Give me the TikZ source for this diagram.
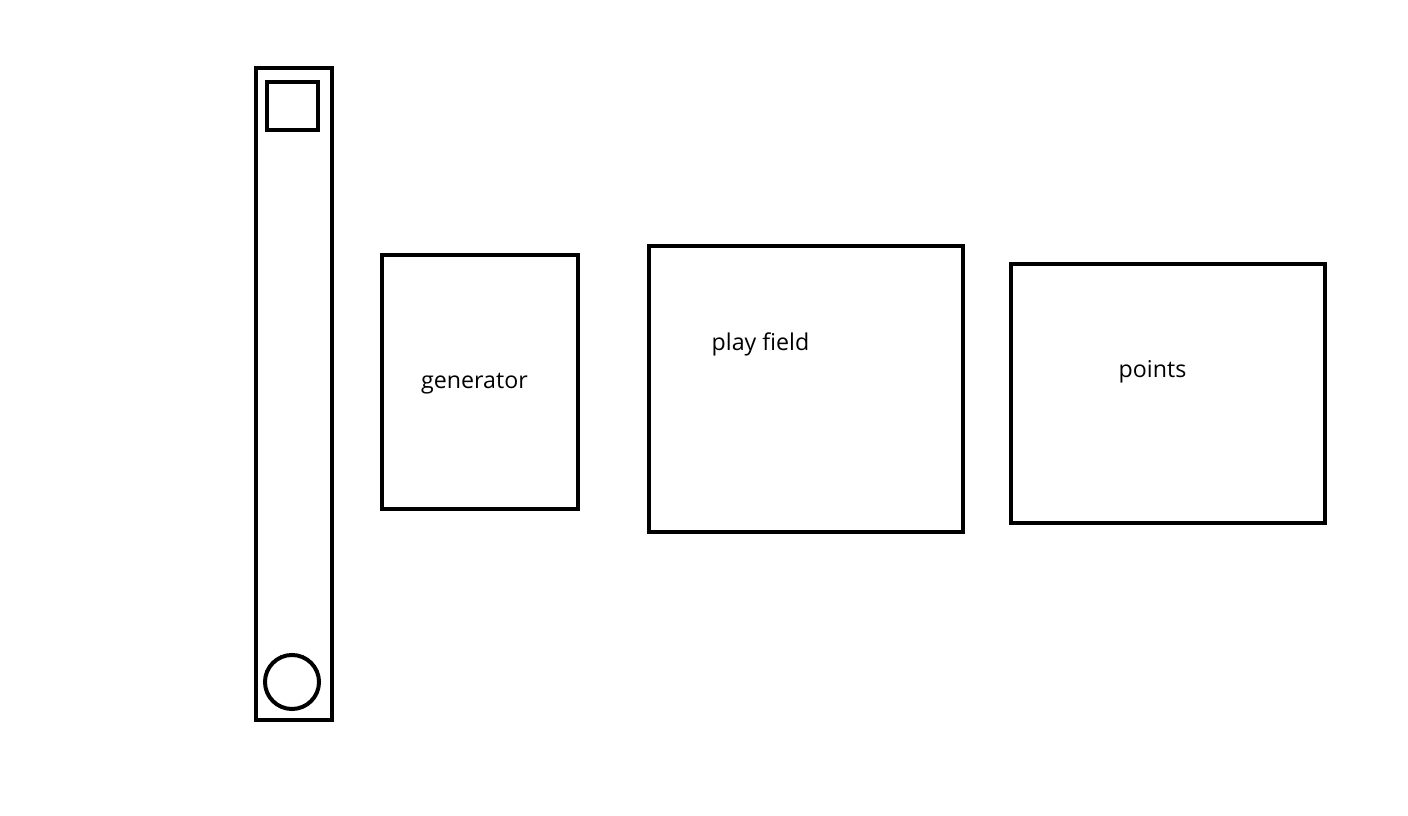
\documentclass[tikz,border=0pt]{standalone}
\usepackage{fontspec}
\setmainfont{Open Sans}
\tikzset{
  panel/.style={draw, line width=0.4mm, inner sep=0pt, rectangle},
  knob/.style={draw, line width=0.4mm, inner sep=0pt, circle},
  caption/.style={inner sep=0pt, font=\fontsize{6.6}{8}\selectfont}
}
\begin{document}
\begin{tikzpicture}[x=0.01cm, y=-0.01cm]%
\useasboundingbox (0,0) rectangle (1408,816);%
\node [panel, minimum width=7.6mm, minimum height=65.2mm] (bar) at (294,394) {};%
\node [panel, minimum width=5.1mm, minimum height=4.8mm] (top) at (292.5,106) {};%
\node [knob, minimum size=5.4mm] (ball) at (292,682) {};%
\node [panel, minimum width=19.6mm, minimum height=25.4mm] (gen) at (480,382) {};%
\node [panel, minimum width=31.4mm, minimum height=28.6mm] (field) at (806,389) {};%
\node [panel, minimum width=31.4mm, minimum height=25.9mm] (score) at (1168,393.5) {};%
\node [caption] (gentext) at (474.5,384) {generator};%
\node [caption] (fieldtext) at (760.5,344) {play field};%
\node [caption] (scoretext) at (1152.5,372) {points};%
\end{tikzpicture}
\end{document}
